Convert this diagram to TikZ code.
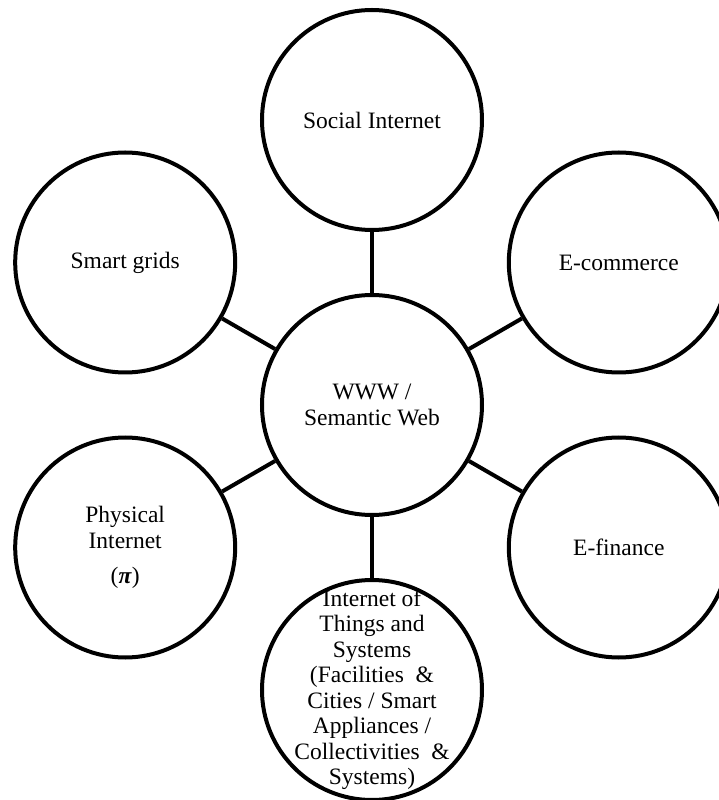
\documentclass[tikz,border=0pt]{standalone}
\usepackage{fontspec}
\setmainfont{Liberation Serif}
\usetikzlibrary{positioning}
\tikzset{bubble/.style = {draw, circle, line width = 4pt, minimum size = 220pt,
                          inner sep = 0, align = center,
                          font = \fontsize{23.5}{25.5}\selectfont}}
\tikzset{spoke/.style = {line width = 4pt}}

\begin{document}
\begin{tikzpicture}[x=1pt, y=1pt]
    \useasboundingbox (-372, -395) rectangle (347, 405);

    \node [bubble] (hub) at (0, 0) {WWW /\\Semantic Web};
    \node [bubble] (social) at (90:285) {Social Internet};
    \node [bubble] (ecom) at (30:285) {E-commerce};
    \node [bubble] (efin) at (-30:285) {E-finance};
    \node [bubble, inner sep = -30pt] (iot) at (-90:285) {Internet of\\Things and\\Systems\\(Facilities \ \&\\Cities / Smart\\Appliances /\\Collectivities \ \&\\Systems)};
    \node [bubble] (phys) at (210:285) {Physical\\Internet\\[10pt](\textbf{\textit{π}})};
    \node [bubble] (grids) at (150:285) {Smart grids};

    \foreach \sat in {social, ecom, efin, iot, phys, grids}
      \draw [spoke] (hub) -- (\sat);
  \end{tikzpicture}
\end{document}
